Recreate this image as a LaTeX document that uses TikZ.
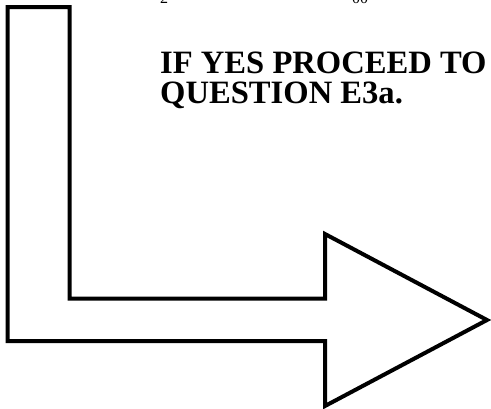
\documentclass[tikz,border=0pt]{standalone}
\usepackage{fontspec}
\setmainfont{Liberation Serif}
\begin{document}
\begin{tikzpicture}[x=1pt,y=-1pt,
  arrowline/.style={draw=black,line width=4pt,line join=miter,fill=white},
  headtext/.style={font=\bfseries\fontsize{32.6}{30}\selectfont,anchor=base west,inner sep=0pt,align=left},
  cuttext/.style={font=\fontsize{16}{18}\selectfont,anchor=base west,inner sep=0pt}]
\useasboundingbox (0,0) rectangle (491,408);
\begin{scope}
\clip (0,0) rectangle (491,408);
\node[cuttext] (c1) at (160,3.5) {2};
\node[cuttext] (c2) at (352,3.5) {00};
\end{scope}
\coordinate (p1) at (7.5,7);
\coordinate (p2) at (69.5,7);
\coordinate (p3) at (69.5,298.5);
\coordinate (p4) at (325,298.5);
\coordinate (p5) at (325,234);
\coordinate (p6) at (487,320);
\coordinate (p7) at (325,406);
\coordinate (p8) at (325,341);
\coordinate (p9) at (7.5,341);
\path[arrowline] (p1) -- (p2) -- (p3) -- (p4) -- (p5) -- (p6) -- (p7) -- (p8) -- (p9) -- cycle;
\node[headtext] (t1) at (160,73) {IF YES PROCEED TO};
\node[headtext] (t2) at (160,103) {QUESTION E3a.};
\end{tikzpicture}
\end{document}
